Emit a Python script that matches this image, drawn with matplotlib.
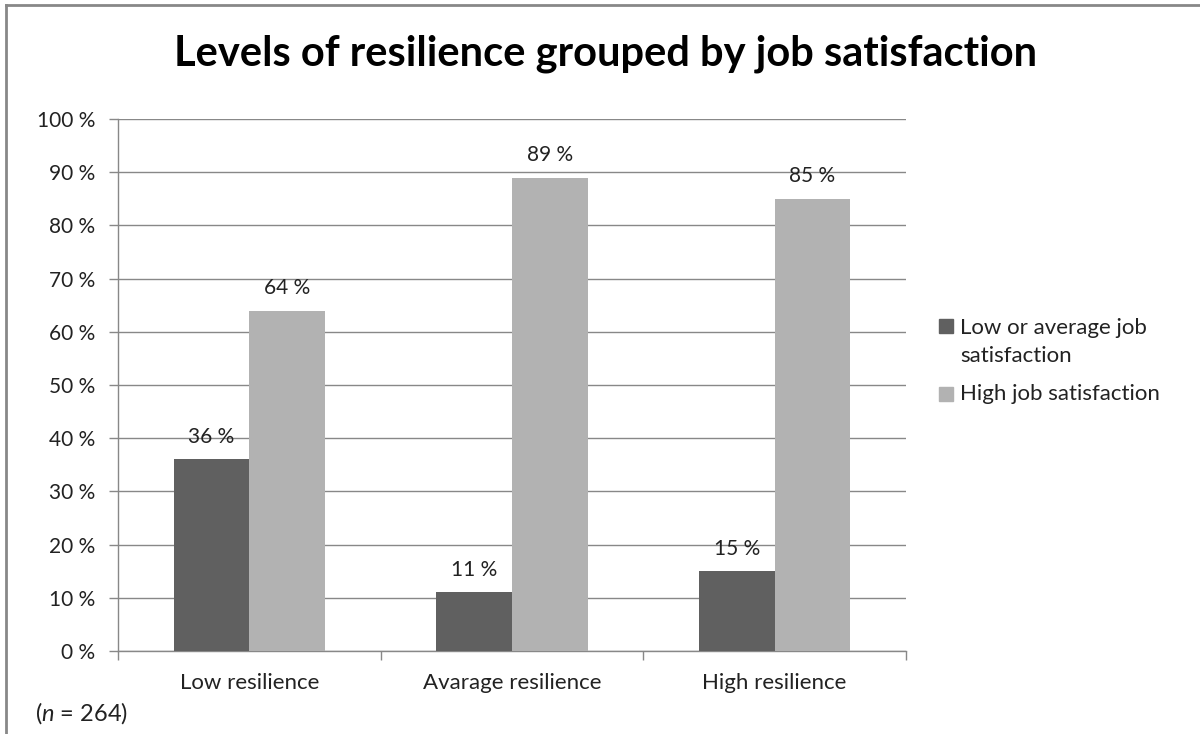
import matplotlib
matplotlib.use("Agg")
import matplotlib.pyplot as plt
import matplotlib.patches as mpatches
import matplotlib.lines as mlines
import numpy as np

plt.rcParams['font.family'] = ['Lato', 'DejaVu Sans']
plt.rcParams['mathtext.fontset'] = 'custom'
plt.rcParams['mathtext.rm'] = 'Lato'
plt.rcParams['mathtext.it'] = 'Lato:italic'

# data
categories = ['Low resilience', 'Avarage resilience', 'High resilience']
low_avg_sat = [36, 11, 15]
high_sat = [64, 89, 85]
series_names = ['Low or average job\nsatisfaction', 'High job satisfaction']
yticks = [0, 10, 20, 30, 40, 50, 60, 70, 80, 90, 100]

dark = '#606060'
light = '#b2b2b2'
grid_c = '#888888'
txt_c = '#222222'

fig = plt.figure(figsize=(12, 7.34), dpi=100)
ax = fig.add_axes([118/1200, 1-651/734, (906-118)/1200, (651-119)/734])

x = np.arange(len(categories))
w = 0.2875
b1 = ax.bar(x - w/2, low_avg_sat, w, color=dark, zorder=3)
b2 = ax.bar(x + w/2, high_sat, w, color=light, zorder=3)

fmt = lambda v: '%d %%' % v
ax.bar_label(b1, labels=[fmt(v) for v in low_avg_sat], padding=9, fontsize=15, color=txt_c)
ax.bar_label(b2, labels=[fmt(v) for v in high_sat], padding=9, fontsize=15, color=txt_c)

ax.set_xlim(-0.5, len(categories) - 0.5)
ax.set_ylim(0, 100)
ax.set_yticks(yticks)
ax.set_yticklabels(['%d %%' % t for t in yticks], fontsize=15, color=txt_c)
ax.yaxis.grid(True, color=grid_c, lw=1, zorder=0)

ax.set_xticks(x)
ax.set_xticklabels(categories, fontsize=16, color=txt_c)
ax.tick_params(axis='x', length=0, pad=16)
# category boundary ticks
ax.set_xticks(np.arange(len(categories) + 1) - 0.5, minor=True)
ax.tick_params(axis='x', which='minor', length=6.5, color=grid_c, width=1)
ax.tick_params(axis='y', length=6.5, color=grid_c, width=1, pad=10)

for s in ['top', 'right']:
    ax.spines[s].set_visible(False)
for s in ['left', 'bottom']:
    ax.spines[s].set_color(grid_c)
    ax.spines[s].set_linewidth(1)

fig.text(606/1200, 1-54/734, 'Levels of resilience grouped by job satisfaction',
         ha='center', va='center', fontsize=30, fontweight='bold', color='black')

# legend
fig.patches.append(mpatches.Rectangle((939/1200, 1-333/734), 14/1200, 14/734,
                                      transform=fig.transFigure, color=dark))
fig.text(960/1200, 1-362/734, series_names[0], ha='left', va='baseline',
         fontsize=16, color=txt_c, linespacing=1.5)
fig.patches.append(mpatches.Rectangle((939/1200, 1-401/734), 14/1200, 14/734,
                                      transform=fig.transFigure, color=light))
fig.text(960/1200, 1-400/734, series_names[1], ha='left', va='baseline',
         fontsize=16, color=txt_c)

fig.text(35/1200, 1-721/734, '($n$ = 264)', ha='left', va='baseline',
         fontsize=17, color=txt_c)

# outer frame
fig.add_artist(mlines.Line2D([6/1200, 1], [1-5/734, 1-5/734], transform=fig.transFigure,
                             color='#888888', lw=2))
fig.add_artist(mlines.Line2D([6/1200, 6/1200], [0, 1-5/734], transform=fig.transFigure,
                             color='#888888', lw=2))

fig.savefig('out.png', dpi=100)
